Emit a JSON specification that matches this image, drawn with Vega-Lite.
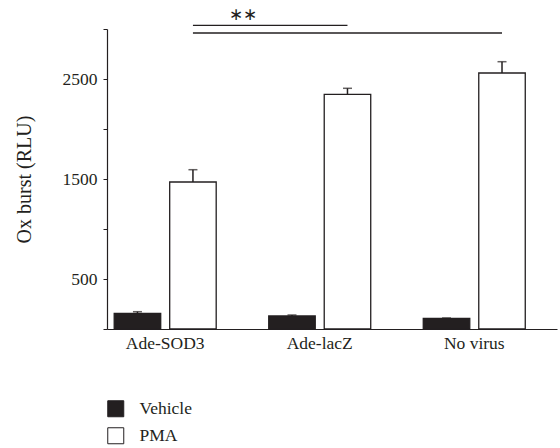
{
  "$schema": "https://vega.github.io/schema/vega-lite/v6.json",
  "autosize": {"type": "none"},
  "width": 450,
  "height": 300,
  "padding": {"left": 107, "top": 29, "right": 3, "bottom": 119},
  "background": "white",
  "config": {
    "view": {"stroke": null},
    "font": "Liberation Serif",
    "axis": {"labelFont": "Liberation Serif", "titleFont": "Liberation Serif", "labelColor": "#231f20", "titleColor": "#231f20", "domainColor": "#231f20", "tickColor": "#231f20", "grid": false},
    "legend": {"labelFont": "Liberation Serif", "labelColor": "#231f20"}
  },
  "datasets": {
    "bars": [
      {"group": "Ade-SOD3", "treatment": "Vehicle", "value": 157, "upper": 173},
      {"group": "Ade-SOD3", "treatment": "PMA", "value": 1470, "upper": 1593},
      {"group": "Ade-lacZ", "treatment": "Vehicle", "value": 130, "upper": 140},
      {"group": "Ade-lacZ", "treatment": "PMA", "value": 2347, "upper": 2407},
      {"group": "No virus", "treatment": "Vehicle", "value": 107, "upper": 110},
      {"group": "No virus", "treatment": "PMA", "value": 2560, "upper": 2673}
    ],
    "sig": [
      {"from": "Ade-SOD3", "to": "Ade-lacZ", "level": 3037},
      {"from": "Ade-SOD3", "to": "No virus", "level": 2960}
    ],
    "stars": [
      {"group": "Ade-SOD3", "level": 3140, "label": "∗∗"}
    ]
  },
  "layer": [
    {
      "data": {"name": "bars"},
      "mark": {"type": "bar", "stroke": "#231f20", "strokeWidth": 1.3},
      "encoding": {
        "x": {
          "field": "group", "type": "nominal", "sort": ["Ade-SOD3", "Ade-lacZ", "No virus"],
          "scale": {"paddingInner": 0.34, "paddingOuter": 0.126, "align": 0.185},
          "axis": {"title": null, "labelAngle": 0, "ticks": false, "labelFontSize": 17.5, "labelPadding": 5, "domainWidth": 1.2}
        },
        "xOffset": {
          "field": "treatment", "type": "nominal", "sort": ["Vehicle", "PMA"],
          "scale": {"paddingInner": 0.162, "paddingOuter": 0}
        },
        "y": {
          "field": "value", "type": "quantitative",
          "scale": {"domain": [0, 3000], "nice": false},
          "axis": {
            "title": "Ox burst (RLU)", "titleFontSize": 20, "titleFontWeight": "normal", "titlePadding": 28,
            "values": [0, 500, 1000, 1500, 2000, 2500, 3000],
            "labelExpr": "datum.value % 1000 == 500 ? datum.label : ''",
            "format": "d", "labelFontSize": 17.5, "tickSize": 4, "labelPadding": 6, "domainWidth": 1.2
          }
        },
        "fill": {
          "field": "treatment", "type": "nominal",
          "scale": {"domain": ["Vehicle", "PMA"], "range": ["#231f20", "#ffffff"]},
          "legend": {
            "title": null, "orient": "none", "legendX": 0, "legendY": 371,
            "symbolType": "square", "symbolSize": 256, "symbolStrokeColor": "#231f20", "symbolStrokeWidth": 1,
            "labelFontSize": 17.5, "labelOffset": 15, "rowPadding": 6
          }
        }
      }
    },
    {
      "data": {"name": "bars"},
      "mark": {"type": "rule", "color": "#231f20", "strokeWidth": 1.5},
      "encoding": {
        "x": {"field": "group", "type": "nominal", "sort": ["Ade-SOD3", "Ade-lacZ", "No virus"]},
        "xOffset": {"field": "treatment", "type": "nominal", "sort": ["Vehicle", "PMA"]},
        "y": {"field": "value", "type": "quantitative"},
        "y2": {"field": "upper"}
      }
    },
    {
      "data": {"name": "bars"},
      "mark": {"type": "tick", "color": "#231f20", "thickness": 1.5, "size": 9, "orient": "horizontal"},
      "encoding": {
        "x": {"field": "group", "type": "nominal", "sort": ["Ade-SOD3", "Ade-lacZ", "No virus"]},
        "xOffset": {"field": "treatment", "type": "nominal", "sort": ["Vehicle", "PMA"]},
        "y": {"field": "upper", "type": "quantitative"}
      }
    },
    {
      "data": {"name": "sig"},
      "mark": {"type": "rule", "color": "#231f20", "strokeWidth": 1.3},
      "encoding": {
        "x": {"field": "from", "type": "nominal", "bandPosition": 0.772},
        "x2": {"field": "to", "bandPosition": 0.772},
        "y": {"field": "level", "type": "quantitative"}
      }
    },
    {
      "data": {"name": "stars"},
      "mark": {"type": "text", "fontSize": 17, "color": "#231f20", "baseline": "middle", "dx": 50},
      "encoding": {
        "x": {"field": "group", "type": "nominal", "bandPosition": 0.772},
        "y": {"field": "level", "type": "quantitative"},
        "text": {"field": "label"}
      }
    }
  ]
}
